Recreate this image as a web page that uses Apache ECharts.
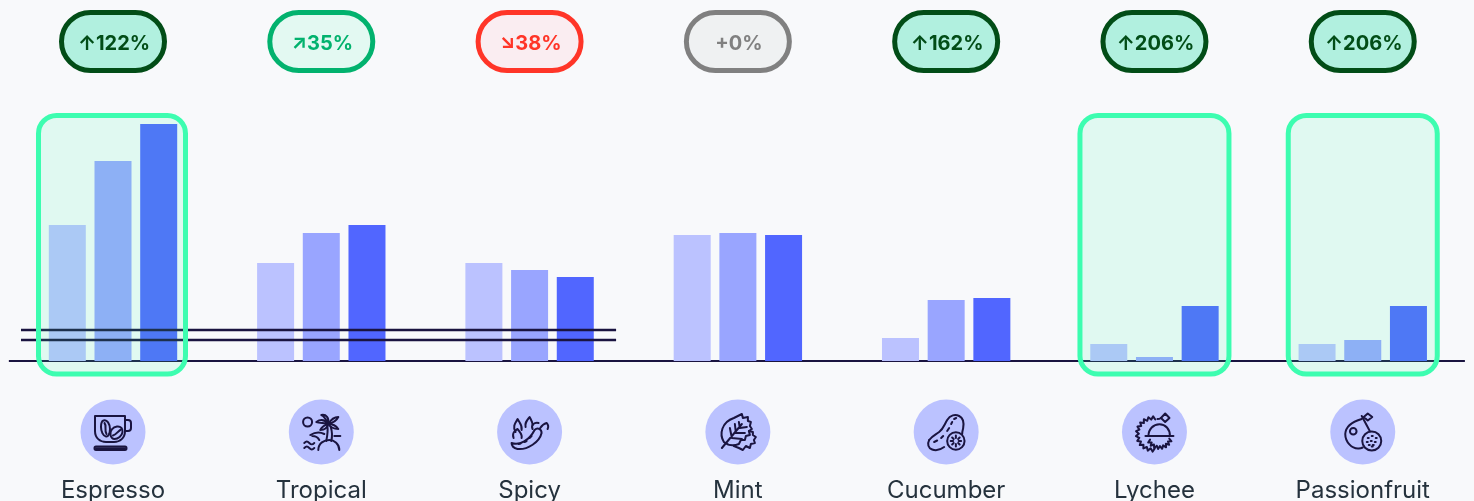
<!DOCTYPE html>
<html>
<head>
<meta charset="utf-8">
<title>Flavours</title>
<style>
  html, body { margin: 0; padding: 0; background: #f8f9fb; overflow: hidden; }
  #chart { width: 1474px; height: 501px; }
</style>
</head>
<body>
<div id="chart"></div>
<script src="https://cdn.jsdelivr.net/npm/echarts@6/dist/echarts.min.js"></script>
<script>
const categories = ['Espresso', 'Tropical', 'Spicy', 'Mint', 'Cucumber', 'Lychee', 'Passionfruit']
const firstValues = [136, 98, 98, 126, 23, 17, 17]
const secondValues = [200, 128, 91, 128, 61, 4, 21]
const thirdValues = [237, 136, 84, 126, 63, 55, 55]
const changeLabels = ['↑122%', '↗35%', '↘38%', '+0%', '↑162%', '↑206%', '↑206%']
const changeKinds = ['strong', 'up', 'down', 'flat', 'strong', 'strong', 'strong']
const highlighted = [0, 5, 6]
const breakLevels = [31, 21]
const breakCategories = [0, 2]
const iconNames = ['cup', 'palm', 'chili', 'leaf', 'cucumber', 'lychee', 'passion']

const badgeStyles = {
  strong: { fill: '#b1f0df', stroke: '#024d17', text: '#024d17' },
  up: { fill: '#e3f9f2', stroke: '#02b26e', text: '#02b26e' },
  down: { fill: '#faedf1', stroke: '#ff3528', text: '#ff3528' },
  flat: { fill: '#eff1f2', stroke: '#808080', text: '#808080' },
}

const ink = '#1a1440'

// zigzag edge for the lychee skin, a = angle in degrees
function spikes(cx, cy, r, from, to, step) {
  let d = ''
  let k = 0
  for (let a = from; a <= to; a += step / 2) {
    let rr = k % 2 ? r + 2.6 : r - 0.4
    let x = cx + rr * Math.cos((a * Math.PI) / 180)
    let y = cy + rr * Math.sin((a * Math.PI) / 180)
    d += (k ? 'L' : 'M') + x.toFixed(1) + ' ' + y.toFixed(1)
    k++
  }
  return d
}

// line icons, drawn around 0,0 inside the 65px circle
const icons = {
  cup: [
    'M-18 -16H12V-1C12 6 7 10 1 10H-7C-13 10 -18 6 -18 -1Z',
    'M12 -12H15C17 -12 18 -11 18 -9V-4C18 -2 17 -1 15 -1H12',
    'M-17 14.5H12C14 14.5 14 18 12 18H-17C-19 18 -19 14.5 -17 14.5Z',
    'M-17 16.2H12',
    'M-9.5 -11.5C-6 -13 -3 -8 -3 -3C-3 2 -5 5 -7 4.5C-10 4 -12 -1 -12 -5C-12 -8 -11 -11 -9.5 -11.5Z',
    'M-8.5 -9C-6 -6 -9 -2 -6.5 2',
    'M-2.5 3C-3.5 -1 0 -5 4 -5.5C8 -6 10 -3 9.5 0C9 4 5 7 1.5 7C-0.5 7 -2 5 -2.5 3Z',
    'M0 3.5C3 3 5 -1 8 -2.5',
  ],
  palm: [
    'M-18.2 -10a4.5 4.5 0 1 0 9 0a4.5 4.5 0 1 0 -9 0Z',
    'M7 -8C3 -13 -1 -13 -5 -10C-2 -9 3 -9 7 -8Z',
    'M7 -8C10 -13 14 -15 17 -15C15 -11 11 -9 7 -8Z',
    'M7 -8C3 -7 0 -4 -1 -2C3 -2 6 -4 7 -8Z',
    'M7 -8C11 -8 15 -6 17 -3C13 -3 9 -5 7 -8Z',
    'M7 -8C5 -12 3 -16 0 -17C5 -18 8 -14 7 -8Z',
    'M6 -6C7 -1 6 4 5 9M9.5 -5C11 0 11 5 10 9',
    'M-11 3C-6 0 -1 0 3 2M-9 4C-5 4 -3 6 -2 8',
    'M-3 18C-3 11 3 8 8 8C13 8 18 12 18 18',
    'M-17 11C-15 9 -14 9 -12 11C-10 13 -9 13 -7 11M-17 16C-15 14 -14 14 -12 16C-10 18 -9 18 -7 16',
    'M13 4H19',
  ],
  chili: [
    'M-18 11C-10 14 0 8 5 -2C8 -5 12 -3 12 1C10 10 -2 18 -12 17C-16 16 -18 14 -18 11Z',
    'M10 -3C12 -6 13 -8 17 -9C19 -7 19 -5 18 -3',
    'M3 -3C1 -7 5 -10 9 -9',
    'M-14 0C-17 -5 -15 -8 -12 -13C-10 -9 -7 -7 -8 -2',
    'M-16 6C-18 1 -14 -2 -12 -3C-10 0 -7 2 -8 6',
    'M-4 -5C-5 -9 -3 -11 0 -15C2 -11 3 -10 3 -7',
    'M-11 12L-9 11.5M-5 10L-3 9M0 6L2 4',
  ],
  leaf: [
    'M-14 10C-19 2 -16 -10 -4 -14L4 -18L5 -14L10 -15L10 -11L13 -10L12 -6L14 -3L11 -1L12 3L8 4L7 8L3 8L1 12C-4 14 -9 14 -14 10Z',
    'M11 -1L15 0L15 3L18 5L16 8L17 11L13 12L12 16L8 14L5 18L1 16L-4 14',
    'M-16 16L4 -8M-6 6L-8 -4M-2 1L-3 -8M2 -4L1 -10M-6 6L4 7M-2 1L7 1M2 -4L9 -5',
  ],
  cucumber: [
    'M-17 8C-19 12 -18 16 -14 17.5C-10 19 -6 18 -2 15',
    'M-17 8C-14 4 -11 3 -7 0C-3 -3 -2 -7 1 -12C4 -17 9 -18 13 -16C17 -14 18 -10 17 -4C17 -3 16 -1 16 2',
    'M1 9a8.7 8.7 0 1 0 17.4 0a8.7 8.7 0 1 0 -17.4 0Z',
    'M-12 10L-9 8.5M-5 6L-3 4M1 -1L3 -4M5 -8L6 -10M8 -13L10 -14',
    'M9.7 3.5V6M9.7 12V14.5M4.5 9H7M12.5 9H15M6 5.5L7.5 7M12 11L13.5 12.5M13.5 5.5L12 7M7.5 11L6 12.5',
  ],
  lychee: [
    spikes(-1, 2, 15, 85, 280, 16),
    'M-6 4C-6 -3 -1 -7.7 5 -7.7C11 -7.7 15.5 -3 15.5 4',
    'M-9 4H19',
    spikes(5, 4, 10.5, 15, 165, 18),
    'M6.5 -14L10.7 -18.5L15 -14L10.7 -10Z',
    'M6.5 -14C5 -13 4 -13 3 -13',
  ],
  passion: [
    'M-1 -13C-8 -11 -17 -7 -17.5 2C-17.5 10 -11 17 -4 16.5C-2 16.5 -1 16 0 15.5',
    'M-1 -16L7 -1',
    'M-12.8 -0.7a3.3 3.3 0 1 0 6.6 0a3.3 3.3 0 1 0 -6.6 0Z',
    'M1 -15L5 -18.5L9.5 -15L5 -11.5Z',
    'M-0.5 9a9.5 9.5 0 1 0 19 0a9.5 9.5 0 1 0 -19 0Z',
    'M5 6H6M9 4H10M13 6H14M4 10H5M8 9H9M12 10H13M6 13H7M10 13H11M9 14.5H10',
  ],
}

function renderBadge(params, api) {
  let i = api.value(0)
  let x = api.coord([i, 0])[0]
  let y = params.coordSys.y - 79.5
  let s = badgeStyles[changeKinds[i]]
  return {
    type: 'group',
    children: [
      {
        type: 'rect',
        shape: { x: x - 51.5, y: y - 29, width: 103, height: 58, r: 29 },
        style: { fill: s.fill, stroke: s.stroke, lineWidth: 5 },
      },
      {
        type: 'text',
        style: {
          x: x + 1,
          y: y + 2.5,
          text: changeLabels[i],
          fill: s.text,
          font: '700 20px Inter',
          align: 'center',
          verticalAlign: 'middle',
        },
      },
    ],
  }
}

function renderIcon(params, api) {
  let i = api.value(0)
  let p = api.coord([i, 0])
  let cy = p[1] + 71
  return {
    type: 'group',
    children: [
      {
        type: 'circle',
        shape: { cx: p[0], cy: cy, r: 32.5 },
        style: { fill: '#bbc2ff' },
      },
      {
        type: 'group',
        x: p[0],
        y: cy,
        children: icons[iconNames[i]].map((d) => ({
          type: 'path',
          shape: { pathData: d },
          style: { fill: 'none', stroke: ink, lineWidth: 2, lineCap: 'round', lineJoin: 'round' },
        })),
      },
    ],
  }
}

function renderBaseline(params, api) {
  let cs = params.coordSys
  let y = api.coord([0, 0])[1]
  return {
    type: 'line',
    shape: { x1: cs.x, y1: y, x2: cs.x + cs.width - 2, y2: y },
    style: { stroke: ink, lineWidth: 2 },
  }
}

function renderBreak(params, api) {
  let level = api.value(0)
  let y = api.coord([0, level])[1]
  return {
    type: 'line',
    shape: {
      x1: api.coord([breakCategories[0], 0])[0] - 92,
      y1: y,
      x2: api.coord([breakCategories[1], 0])[0] + 86.5,
      y2: y,
    },
    style: { stroke: ink, lineWidth: 2.5 },
  }
}

function renderHighlight(params, api) {
  let i = api.value(0)
  let p = api.coord([i, 0])
  let top = params.coordSys.y - 5.5
  // the first box is a touch narrower than the others
  let w = i === 0 ? 147 : 149
  return {
    type: 'rect',
    shape: { x: p[0] - 74.5, y: top, width: w, height: p[1] + 13 - top, r: 18 },
    style: { fill: 'rgba(60,255,175,0.12)', stroke: '#3dfdb0', lineWidth: 5 },
  }
}

function barSeries(values, color) {
  return {
    type: 'bar',
    data: values,
    barWidth: 37,
    barGap: '23.5%',
    itemStyle: { color: color },
    z: 2,
  }
}

const chart = echarts.init(document.getElementById('chart'), null, { renderer: 'canvas' })
chart.setOption({
  backgroundColor: '#f8f9fb',
  animation: false,
  // labels run to the bottom edge, keep the grid from being pushed up
  grid: { left: 8.85, right: 7.1, top: 121, height: 240, outerBoundsMode: 'none' },
  xAxis: {
    type: 'category',
    data: categories,
    axisTick: { show: false },
    axisLine: { show: false },
    axisLabel: {
      margin: 118,
      color: '#25323d',
      fontFamily: 'Inter',
      fontSize: 24,
      interval: 0,
    },
  },
  yAxis: { type: 'value', min: 0, max: 240, show: false, splitLine: { show: false } },
  series: [
    {
      type: 'custom',
      renderItem: renderBaseline,
      data: [[0, 0]],
      encode: { x: 0, y: 1 },
      z: 1,
    },
    barSeries(firstValues, '#bbc2ff'),
    barSeries(secondValues, '#99a5ff'),
    barSeries(thirdValues, '#5166ff'),
    {
      type: 'custom',
      renderItem: renderBreak,
      data: breakLevels.map((v) => [v]),
      encode: { y: 0 },
      z: 3,
    },
    {
      type: 'custom',
      renderItem: renderHighlight,
      data: highlighted.map((i) => [i, 0]),
      encode: { x: 0, y: 1 },
      z: 4,
    },
    {
      type: 'custom',
      renderItem: renderBadge,
      data: categories.map((c, i) => [i, 0]),
      encode: { x: 0, y: 1 },
      z: 5,
    },
    {
      type: 'custom',
      renderItem: renderIcon,
      data: categories.map((c, i) => [i, 0]),
      encode: { x: 0, y: 1 },
      z: 5,
    },
  ],
})
</script>
</body>
</html>
